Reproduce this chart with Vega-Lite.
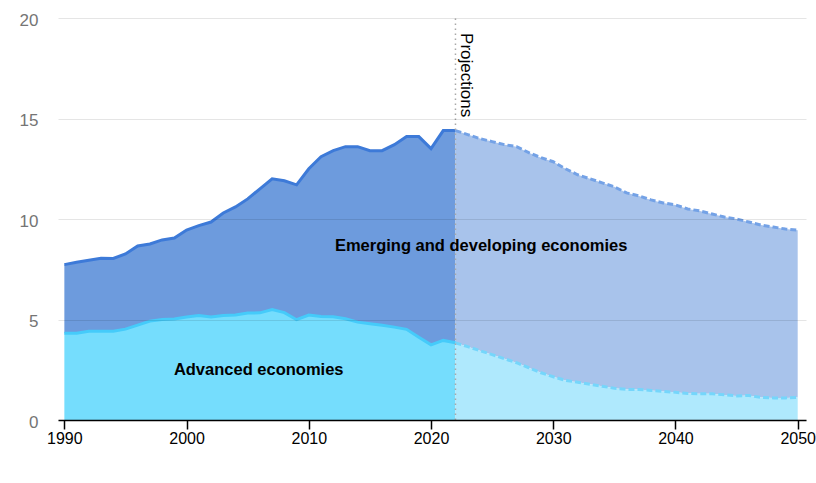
{
  "$schema": "https://vega.github.io/schema/vega-lite/v6.json",
  "width": 748,
  "height": 402,
  "autosize": "none",
  "padding": {"left": 58, "top": 18, "right": 10, "bottom": 63},
  "background": "white",
  "config": {
    "view": {"stroke": null},
    "font": "Liberation Sans"
  },
  "datasets": {
    "hist": [
      {"year": 1990, "adv": 4.32, "tot": 7.73},
      {"year": 1991, "adv": 4.32, "tot": 7.85},
      {"year": 1992, "adv": 4.41, "tot": 7.95},
      {"year": 1993, "adv": 4.42, "tot": 8.05},
      {"year": 1994, "adv": 4.42, "tot": 8.04},
      {"year": 1995, "adv": 4.52, "tot": 8.26},
      {"year": 1996, "adv": 4.72, "tot": 8.66},
      {"year": 1997, "adv": 4.92, "tot": 8.76},
      {"year": 1998, "adv": 5.0, "tot": 8.96},
      {"year": 1999, "adv": 5.02, "tot": 9.05},
      {"year": 2000, "adv": 5.12, "tot": 9.45},
      {"year": 2001, "adv": 5.2, "tot": 9.67},
      {"year": 2002, "adv": 5.12, "tot": 9.85},
      {"year": 2003, "adv": 5.2, "tot": 10.3},
      {"year": 2004, "adv": 5.22, "tot": 10.6},
      {"year": 2005, "adv": 5.32, "tot": 11.0},
      {"year": 2006, "adv": 5.33, "tot": 11.5},
      {"year": 2007, "adv": 5.49, "tot": 12.0},
      {"year": 2008, "adv": 5.34, "tot": 11.9},
      {"year": 2009, "adv": 4.99, "tot": 11.7},
      {"year": 2010, "adv": 5.22, "tot": 12.5},
      {"year": 2011, "adv": 5.15, "tot": 13.1},
      {"year": 2012, "adv": 5.14, "tot": 13.4},
      {"year": 2013, "adv": 5.04, "tot": 13.6},
      {"year": 2014, "adv": 4.87, "tot": 13.6},
      {"year": 2015, "adv": 4.79, "tot": 13.4},
      {"year": 2016, "adv": 4.71, "tot": 13.4},
      {"year": 2017, "adv": 4.62, "tot": 13.7},
      {"year": 2018, "adv": 4.51, "tot": 14.1},
      {"year": 2019, "adv": 4.12, "tot": 14.1},
      {"year": 2020, "adv": 3.74, "tot": 13.5},
      {"year": 2021, "adv": 3.96, "tot": 14.4},
      {"year": 2022, "adv": 3.84, "tot": 14.4}
    ],
    "proj": [
      {"year": 2022, "adv": 3.84, "tot": 14.4},
      {"year": 2023, "adv": 3.65, "tot": 14.2},
      {"year": 2024, "adv": 3.45, "tot": 14.0},
      {"year": 2025, "adv": 3.25, "tot": 13.85},
      {"year": 2026, "adv": 3.05, "tot": 13.7},
      {"year": 2027, "adv": 2.85, "tot": 13.6},
      {"year": 2028, "adv": 2.6, "tot": 13.3},
      {"year": 2029, "adv": 2.35, "tot": 13.05},
      {"year": 2030, "adv": 2.15, "tot": 12.85},
      {"year": 2031, "adv": 1.97, "tot": 12.5},
      {"year": 2032, "adv": 1.88, "tot": 12.2},
      {"year": 2033, "adv": 1.78, "tot": 12.0},
      {"year": 2034, "adv": 1.68, "tot": 11.8},
      {"year": 2035, "adv": 1.58, "tot": 11.6},
      {"year": 2036, "adv": 1.52, "tot": 11.3},
      {"year": 2037, "adv": 1.52, "tot": 11.15},
      {"year": 2038, "adv": 1.47, "tot": 10.95},
      {"year": 2039, "adv": 1.42, "tot": 10.8},
      {"year": 2040, "adv": 1.38, "tot": 10.7},
      {"year": 2041, "adv": 1.32, "tot": 10.5},
      {"year": 2042, "adv": 1.3, "tot": 10.4},
      {"year": 2043, "adv": 1.3, "tot": 10.25},
      {"year": 2044, "adv": 1.25, "tot": 10.1},
      {"year": 2045, "adv": 1.2, "tot": 10.0},
      {"year": 2046, "adv": 1.22, "tot": 9.85},
      {"year": 2047, "adv": 1.12, "tot": 9.7},
      {"year": 2048, "adv": 1.1, "tot": 9.6},
      {"year": 2049, "adv": 1.1, "tot": 9.5},
      {"year": 2050, "adv": 1.12, "tot": 9.44}
    ],
    "labels": [
      {"label": "Emerging and developing economies", "year": 2024.1, "value": 8.64},
      {"label": "Advanced economies", "year": 2005.9, "value": 2.51}
    ],
    "proj_marker": [
      {"year": 2022, "bottom": 0, "top": 20, "label": "Projections", "ly": 19.25}
    ]
  },
  "layer": [
    {
      "data": {"name": "hist"},
      "mark": {"type": "area", "color": "#6d9bdd", "opacity": 1},
      "encoding": {
        "x": {
          "field": "year",
          "type": "quantitative",
          "scale": {"domain": [1989.48, 2050.68], "nice": false, "zero": false},
          "axis": {
            "title": null,
            "values": [1990, 2000, 2010, 2020, 2030, 2040, 2050],
            "format": "d",
            "grid": false,
            "domainColor": "#000000",
            "domainWidth": 1.5,
            "tickColor": "#000000",
            "tickSize": 9,
            "tickWidth": 1.5,
            "labelColor": "#000000",
            "labelFontSize": 16,
            "labelPadding": 1,
            "zindex": 2
          }
        },
        "y": {
          "field": "tot",
          "type": "quantitative",
          "scale": {"domain": [0, 20], "nice": false},
          "axis": {
            "title": null,
            "values": [0, 5, 10, 15, 20],
            "domain": false,
            "ticks": false,
            "grid": true,
            "gridColor": "#000000",
            "gridOpacity": 0.1,
            "labelColor": "#757575",
            "labelFontSize": 17,
            "labelPadding": 20,
            "labelOffset": 2,
            "zindex": 1
          }
        },
        "y2": {"field": "adv"}
      }
    },
    {
      "data": {"name": "hist"},
      "mark": {"type": "area", "color": "#75ddfd", "opacity": 1},
      "encoding": {"x": {"field": "year", "type": "quantitative"}, "y": {"field": "adv", "type": "quantitative"}}
    },
    {
      "data": {"name": "proj"},
      "mark": {"type": "area", "color": "#a8c3eb", "opacity": 1},
      "encoding": {"x": {"field": "year", "type": "quantitative"}, "y": {"field": "tot", "type": "quantitative"}, "y2": {"field": "adv"}}
    },
    {
      "data": {"name": "proj"},
      "mark": {"type": "area", "color": "#afe9fd", "opacity": 1},
      "encoding": {"x": {"field": "year", "type": "quantitative"}, "y": {"field": "adv", "type": "quantitative"}}
    },
    {
      "data": {"name": "hist"},
      "mark": {"type": "line", "color": "#3d7ad8", "strokeWidth": 3},
      "encoding": {"x": {"field": "year", "type": "quantitative"}, "y": {"field": "tot", "type": "quantitative"}}
    },
    {
      "data": {"name": "hist"},
      "mark": {"type": "line", "color": "#45cbfa", "strokeWidth": 3},
      "encoding": {"x": {"field": "year", "type": "quantitative"}, "y": {"field": "adv", "type": "quantitative"}}
    },
    {
      "data": {"name": "proj"},
      "mark": {"type": "line", "color": "#74a2e6", "strokeWidth": 3, "strokeDash": [6, 3]},
      "encoding": {"x": {"field": "year", "type": "quantitative"}, "y": {"field": "tot", "type": "quantitative"}}
    },
    {
      "data": {"name": "proj"},
      "mark": {"type": "line", "color": "#75d6fb", "strokeWidth": 3, "strokeDash": [6, 3]},
      "encoding": {"x": {"field": "year", "type": "quantitative"}, "y": {"field": "adv", "type": "quantitative"}}
    },
    {
      "data": {"name": "proj_marker"},
      "mark": {"type": "rule", "color": "#a8a8a8", "strokeWidth": 1.5, "strokeDash": [1.5, 3.5]},
      "encoding": {"x": {"field": "year", "type": "quantitative"}, "y": {"field": "bottom", "type": "quantitative"}, "y2": {"field": "top"}}
    },
    {
      "data": {"name": "proj_marker"},
      "mark": {"type": "text", "angle": 90, "align": "left", "baseline": "bottom", "fontSize": 17, "color": "#000000", "dy": -2},
      "encoding": {
        "x": {"field": "year", "type": "quantitative"},
        "y": {"field": "ly", "type": "quantitative"},
        "text": {"field": "label"}
      }
    },
    {
      "data": {"name": "labels"},
      "mark": {"type": "text", "align": "center", "baseline": "middle", "fontSize": 16.5, "fontWeight": "bold", "color": "#000000"},
      "encoding": {
        "x": {"field": "year", "type": "quantitative"},
        "y": {"field": "value", "type": "quantitative"},
        "text": {"field": "label"}
      }
    }
  ]
}
